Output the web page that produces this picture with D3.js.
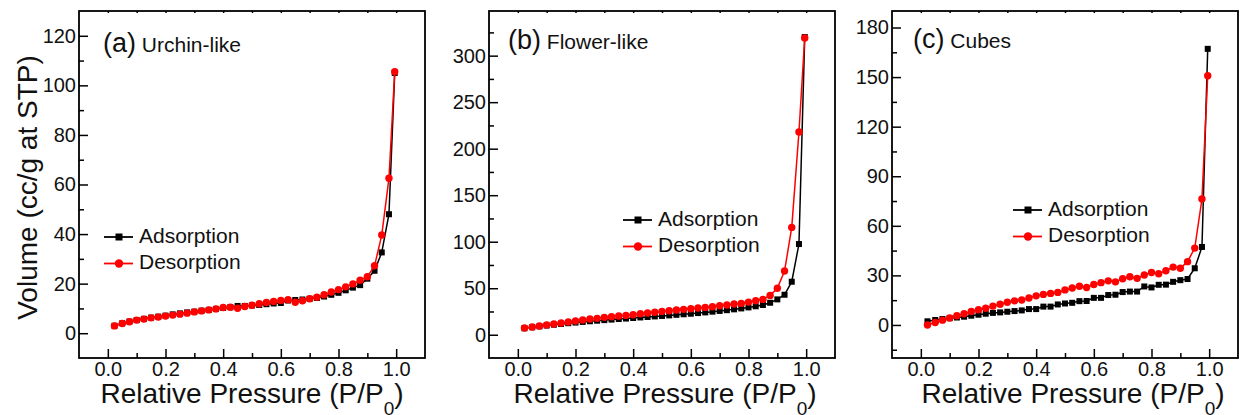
<!doctype html>
<html>
<head>
<script src="https://cdn.jsdelivr.net/npm/d3@7"></script>
<style type="text/css">
  body { margin: 0; background: #fff; }
  svg { font-family: "Liberation Sans", Arial, sans-serif; }
</style>
</head>
<body>
<svg width="1241" height="415"></svg>
<script type="text/javascript">

// relative pressure P/P0 (same for every isotherm)
var pressure = [0.023, 0.05, 0.075, 0.1, 0.125, 0.15, 0.175, 0.2, 0.225, 0.25,
                0.275, 0.3, 0.325, 0.35, 0.375, 0.4, 0.425, 0.45, 0.475, 0.5,
                0.525, 0.55, 0.575, 0.6, 0.625, 0.65, 0.675, 0.7, 0.725, 0.75,
                0.775, 0.8, 0.825, 0.85, 0.875, 0.9, 0.925, 0.95, 0.975, 0.995];

// (a) urchin-like
var adsUrchin = [3.0, 4.0, 4.7, 5.3, 5.8, 6.3, 6.7, 7.1, 7.6, 8.0,
                 8.4, 8.7, 9.1, 9.4, 9.8, 10.2, 10.5, 11.0, 11.0, 11.2,
                 11.4, 11.7, 12.0, 12.2, 13.2, 13.4, 13.6, 13.9, 14.2, 14.8,
                 15.5, 16.3, 17.3, 18.4, 19.4, 22.0, 25.2, 32.6, 48.0, 105.0];
var desUrchin = [2.96, 3.9, 4.6, 5.3, 5.7, 6.2, 6.5, 6.9, 7.3, 7.7,
                 8.1, 8.6, 9.0, 9.4, 9.8, 10.4, 10.5, 10.1, 10.8, 11.3,
                 11.9, 12.4, 12.8, 13.2, 13.5, 12.5, 13.1, 13.9, 14.5, 15.5,
                 16.6, 17.6, 18.7, 19.9, 21.4, 22.8, 27.2, 39.6, 62.5, 105.5];

// (b) flower-like
var adsFlower = [7.0, 8.0, 9.0, 9.9, 10.8, 11.6, 12.4, 13.1, 13.8, 14.5,
                 15.1, 15.7, 16.3, 16.9, 17.4, 18.0, 18.6, 19.1, 19.7, 20.2,
                 20.8, 21.4, 22.0, 22.6, 23.3, 24.0, 24.8, 25.6, 26.4, 27.3,
                 28.3, 29.4, 30.6, 32.0, 34.4, 38.0, 43.0, 57.0, 97.5, 320];
var desFlower = [7.2, 8.3, 9.4, 10.4, 11.5, 12.6, 13.7, 14.7, 15.8, 16.9,
                 17.6, 18.7, 19.4, 20.1, 20.8, 21.5, 22.6, 23.3, 24.1, 25.1,
                 25.8, 26.6, 27.3, 28.0, 28.7, 29.4, 30.1, 31.2, 31.9, 33.0,
                 33.7, 35.1, 36.6, 38.0, 42.3, 50.0, 68.5, 115.4, 218, 319];

// (c) cubes
var adsCubes = [2.2, 3.0, 3.6, 4.1, 4.5, 5.0, 5.6, 6.2, 6.8, 7.3,
                7.6, 8.0, 8.4, 8.8, 9.6, 9.6, 11.1, 11.1, 12.4, 13.0,
                13.4, 14.4, 14.5, 16.4, 16.4, 18.1, 18.3, 19.9, 20.2, 20.2,
                23.3, 22.7, 24.3, 24.4, 26.1, 27.1, 27.8, 34.3, 47.2, 167.1];
var desCubes = [0, 1.5, 2.9, 4.2, 5.6, 6.8, 8.1, 9.2, 10.1, 11.4,
                12.5, 13.7, 14.6, 15.1, 16.3, 17.6, 18.5, 19.1, 19.7, 21.2,
                22.4, 23.4, 22.7, 24.5, 25.6, 26.7, 26.1, 28.0, 29.2, 28.2,
                30.2, 31.7, 31.0, 32.8, 35.0, 34.3, 38.3, 46.5, 76.2, 150.8];

// tick values
var xMajor = [0, 0.2, 0.4, 0.6, 0.8, 1.0];
var xMinor = [0.1, 0.3, 0.5, 0.7, 0.9];
var yMajorUrchin = [0, 20, 40, 60, 80, 100, 120];
var yMinorUrchin = [10, 30, 50, 70, 90, 110];
var yMajorFlower = [0, 50, 100, 150, 200, 250, 300];
var yMinorFlower = [25, 75, 125, 175, 225, 275, 325];
var yMajorCubes = [0, 30, 60, 90, 120, 150, 180];
var yMinorCubes = [-15, 15, 45, 75, 105, 135, 165];

var seriesNames = ["Adsorption", "Desorption"];

var panels = [
  {left: 79, tag: "(a)", name: " Urchin-like", ads: adsUrchin, des: desUrchin,
   yDomain: [-10, 130], yMajor: yMajorUrchin, yMinor: yMinorUrchin,
   tagX: 24, tagY: 52, legX: 104, legY: 237, titleShift: 0},
  {left: 489, tag: "(b)", name: " Flower-like", ads: adsFlower, des: desFlower,
   yDomain: [-25, 348], yMajor: yMajorFlower, yMinor: yMinorFlower,
   tagX: 19, tagY: 49, legX: 623, legY: 220, titleShift: 3},
  {left: 892, tag: "(c)", name: " Cubes", ads: adsCubes, des: desCubes,
   yDomain: [-20, 190], yMajor: yMajorCubes, yMinor: yMinorCubes,
   tagX: 21, tagY: 48, legX: 1013, legY: 210, titleShift: 8}
];

var plotTop = 11, w = 346, h = 347;
var colors = ["#000000", "#ff0000"];

var svg = d3.select("svg");

panels.forEach(function(p, pi) {

  var xScale = d3.scaleLinear().domain([-0.1, 1.1]).range([p.left, p.left + w]);
  var yScale = d3.scaleLinear().domain(p.yDomain).range([plotTop + h, plotTop]);

  var g = svg.append("g");

  // axes: major + minor ticks pointing inward
  var xa = g.append("g").attr("transform", "translate(0," + (plotTop + h) + ")")
    .call(d3.axisBottom(xScale).tickValues(xMajor).tickSize(-9).tickPadding(4)
          .tickFormat(d3.format(".1f")));
  var xm = g.append("g").attr("transform", "translate(0," + (plotTop + h) + ")")
    .call(d3.axisBottom(xScale).tickValues(xMinor).tickSize(-5).tickFormat(""));
  var xt = g.append("g").attr("transform", "translate(0," + plotTop + ")")
    .call(d3.axisTop(xScale).tickValues(xMajor.concat(xMinor)).tickSize(-2).tickFormat(""));
  var ya = g.append("g").attr("transform", "translate(" + p.left + ",0)")
    .call(d3.axisLeft(yScale).tickValues(p.yMajor).tickSize(-9).tickPadding(3));
  var ym = g.append("g").attr("transform", "translate(" + p.left + ",0)")
    .call(d3.axisLeft(yScale).tickValues(p.yMinor).tickSize(-5).tickFormat(""));

  [xa, xm, xt, ya, ym].forEach(a => {
    a.select(".domain").remove();
    a.selectAll("line").attr("stroke", "#000").attr("stroke-width", 1.5);
    a.selectAll("text").attr("font-family", "Liberation Sans, Arial, sans-serif")
      .attr("font-size", 20).attr("fill", "#111");
  });

  // frame
  g.append("rect")
    .attr("x", p.left).attr("y", plotTop).attr("width", w).attr("height", h)
    .attr("fill", "none").attr("stroke", "#000").attr("stroke-width", 1.8);

  // isotherms
  var line = d3.line().x((d, i) => xScale(pressure[i])).y(d => yScale(d));

  [p.ads, p.des].forEach(function(vals, si) {
    g.append("path").attr("d", line(vals))
      .attr("fill", "none").attr("stroke", colors[si]).attr("stroke-width", 1.5);
    var pts = g.selectAll(null).data(vals).enter();
    if (si == 0) {
      pts.append("rect")
        .attr("x", (d, i) => xScale(pressure[i]) - 3).attr("y", d => yScale(d) - 3)
        .attr("width", 6).attr("height", 6).attr("fill", colors[0]);
    } else {
      pts.append("circle")
        .attr("cx", (d, i) => xScale(pressure[i])).attr("cy", d => yScale(d))
        .attr("r", 3.7).attr("fill", colors[1]);
    }
  });

  // panel label
  var t = g.append("text").attr("x", p.left + p.tagX).attr("y", p.tagY).attr("fill", "#111");
  t.append("tspan").attr("font-size", 27).text(p.tag);
  t.append("tspan").attr("font-size", 21).text(p.name);

  // legend
  seriesNames.forEach(function(s, si) {
    var ly = p.legY + si * 26.5;
    g.append("line").attr("x1", p.legX).attr("x2", p.legX + 29)
      .attr("y1", ly).attr("y2", ly).attr("stroke", colors[si]).attr("stroke-width", 1.8);
    if (si == 0) {
      g.append("rect").attr("x", p.legX + 11.5).attr("y", ly - 3.5)
        .attr("width", 7).attr("height", 7).attr("fill", colors[0]);
    } else {
      g.append("circle").attr("cx", p.legX + 15).attr("cy", ly).attr("r", 4.2).attr("fill", colors[1]);
    }
    g.append("text").attr("x", p.legX + 35).attr("y", ly).attr("dy", "0.28em")
      .attr("font-size", 21).attr("fill", "#111").text(s);
  });

  // x title
  var xt2 = g.append("text")
    .attr("x", p.left + w / 2 + p.titleShift).attr("y", 403)
    .attr("text-anchor", "middle").attr("font-size", 28).attr("fill", "#111");
  xt2.append("tspan").text("Relative Pressure (P/P");
  xt2.append("tspan").attr("font-size", 19).attr("dy", 12).text("0");
  xt2.append("tspan").attr("dy", -12).text(")");

  if (pi == 0) {
    svg.append("text")
      .attr("transform", "translate(37," + (plotTop + h / 2 + 3) + ") rotate(-90)")
      .attr("text-anchor", "middle").attr("font-size", 28).attr("fill", "#111")
      .text("Volume (cc/g at STP)");
  }
});

</script>
</body>
</html>
